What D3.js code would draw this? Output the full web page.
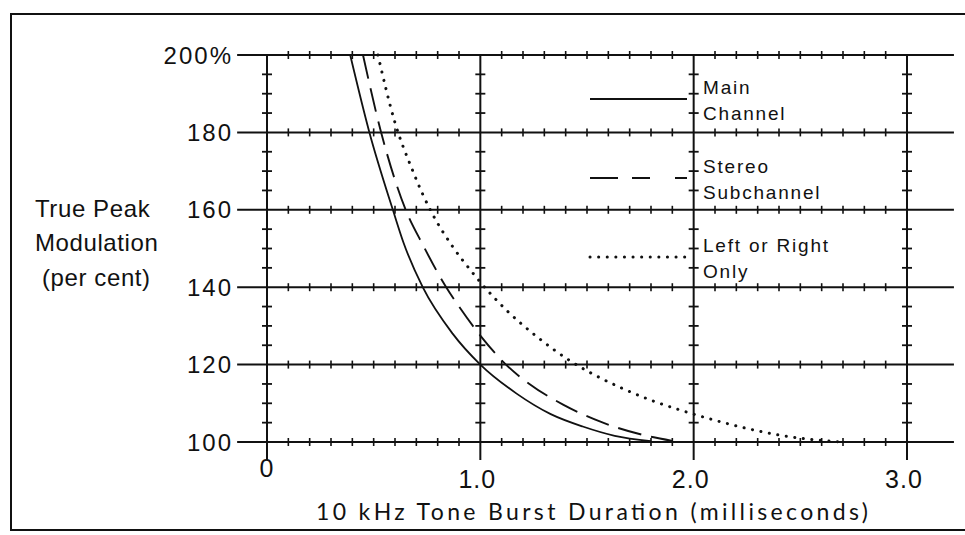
<!DOCTYPE html>
<html>
<head>
<meta charset="utf-8">
<script src="https://cdn.jsdelivr.net/npm/d3@7"></script>
<style>
  body { margin: 0; background: #fff; }
  svg { display: block; }
</style>
</head>
<body>
<svg id="chart"></svg>
<script>
// values
const Y_TICKS = [100, 120, 140, 160, 180, 200];
const Y_LABELS = ["100", "120", "140", "160", "180", "200%"];
const X_TICKS = [0, 1, 2, 3];
const X_LABELS = ["0", "1.0", "2.0", "3.0"];

const MAIN_X = [0.39, 0.48, 0.59, 0.64, 0.73, 0.87, 1.0, 1.17, 1.33, 1.48, 1.63, 1.8];
const MAIN_Y = [200, 180, 160, 151.5, 140, 128, 120, 112.5, 107.2, 104, 101.6, 100.2];

const STEREO_X = [0.45, 0.535, 0.65, 0.73, 0.84, 0.9, 1.0, 1.12, 1.23, 1.39, 1.56, 1.75, 1.9];
const STEREO_Y = [200, 180, 160, 151, 140, 135, 127.5, 120, 115, 109.6, 105.3, 102, 100.3];

const LR_X = [0.52, 0.6, 0.68, 0.73, 0.77, 0.87, 0.96, 1.0, 1.12, 1.27, 1.42, 1.54, 1.66, 1.8, 1.94, 2.1, 2.25, 2.4, 2.56, 2.7];
const LR_Y = [200, 182.5, 170.5, 164, 159.5, 150.5, 144, 141.3, 134.2, 127, 121, 117.2, 114, 110.8, 108.2, 105.6, 103.5, 101.8, 100.6, 100];

const SERIES_NAMES = [["Main", "Channel"], ["Stereo", "Subchannel"], ["Left or Right", "Only"]];

/********* CANVAS ***********/
var width = 965;
var height = 535;
var svg = d3.select("#chart").attr("width", width).attr("height", height);

var x = d3.scaleLinear().domain([0, 3]).range([267, 907]);
var y = d3.scaleLinear().domain([100, 200]).range([442, 55]);

var labelFont = "'Liberation Sans', Arial, Helvetica, sans-serif";

// outer frame (right edge runs off the scan)
svg.append("path")
  .attr("d", "M972,14 H11 V530 H972")
  .attr("fill", "none")
  .attr("stroke", "#111")
  .attr("stroke-width", 2);

/********* GRID ***********/
var grid = svg.append("g").attr("stroke", "#111");

grid.selectAll(".hline")
  .data(Y_TICKS)
  .enter()
  .append("line")
    .attr("x1", x(-0.14))
    .attr("x2", x(3.22))
    .attr("y1", function(d) { return y(d); })
    .attr("y2", function(d) { return y(d); })
    .attr("stroke-width", 2);

grid.selectAll(".vline")
  .data(X_TICKS)
  .enter()
  .append("line")
    .attr("x1", function(d) { return x(d); })
    .attr("x2", function(d) { return x(d); })
    .attr("y1", y(200))
    .attr("y2", y(100) + 18)
    .attr("stroke-width", 2);

// little cross ticks every 0.1 ms along the horizontal lines
var xMinor = d3.range(1, 30).filter(function(i) { return i % 10 != 0; }).map(function(i) { return i / 10; });
Y_TICKS.forEach(function(v) {
  grid.selectAll(null)
    .data(xMinor)
    .enter()
    .append("line")
      .attr("x1", function(d) { return x(d); })
      .attr("x2", function(d) { return x(d); })
      .attr("y1", y(v) - 4)
      .attr("y2", y(v) + 4)
      .attr("stroke-width", 1.6);
});

// and every 5 per cent along the vertical lines
var yMinor = d3.range(105, 200, 5).filter(function(d) { return d % 20 != 0; });
X_TICKS.forEach(function(v) {
  grid.selectAll(null)
    .data(yMinor)
    .enter()
    .append("line")
      .attr("x1", x(v) - 5)
      .attr("x2", x(v) + 5)
      .attr("y1", function(d) { return y(d); })
      .attr("y2", function(d) { return y(d); })
      .attr("stroke-width", 1.8);
});

/********* AXIS LABELS ***********/
svg.selectAll(".ylab")
  .data(Y_TICKS)
  .enter()
  .append("text")
    .attr("x", 233)
    .attr("y", function(d) { return y(d) + 8.5; })
    .attr("text-anchor", "end")
    .style("font-family", labelFont)
    .style("font-size", "24px")
    .style("letter-spacing", "2px")
    .attr("fill", "#111")
    .text(function(d, i) { return Y_LABELS[i]; });

svg.selectAll(".xlab")
  .data(X_TICKS)
  .enter()
  .append("text")
    .attr("x", function(d) { return x(d) + (d == 0 ? 0 : -3); })
    .attr("y", function(d) { return d == 0 ? 477 : 488; })
    .attr("text-anchor", "middle")
    .style("font-family", labelFont)
    .style("font-size", "25px")
    .style("letter-spacing", "1px")
    .attr("fill", "#111")
    .text(function(d, i) { return X_LABELS[i]; });

var ytitle = svg.append("text")
  .style("font-family", labelFont)
  .style("font-size", "24px")
  .style("letter-spacing", "0.6px")
  .attr("fill", "#111");
ytitle.append("tspan").attr("x", 35).attr("y", 217).text("True Peak");
ytitle.append("tspan").attr("x", 35).attr("y", 251).text("Modulation");
ytitle.append("tspan").attr("x", 42).attr("y", 286).text("(per cent)");

svg.append("text")
  .attr("x", 316)
  .attr("y", 520)
  .attr("textLength", 552)
  .attr("lengthAdjust", "spacing")
  .style("font-family", "Lato, 'DejaVu Sans', sans-serif")
  .style("font-size", "23px")
  .attr("fill", "#111")
  .text("10 kHz Tone Burst Duration (milliseconds)");

/********* CURVES ***********/
function pairs(xs, ys) {
  return xs.map(function(d, i) { return [d, ys[i]]; });
}
var series = [
  { data: pairs(MAIN_X, MAIN_Y), dash: null, width: 1.8, cap: "butt" },
  { data: pairs(STEREO_X, STEREO_Y), dash: "24 10", width: 1.9, cap: "butt" },
  { data: pairs(LR_X, LR_Y), dash: "0.1 8.5", width: 3, cap: "round" }
];

var line = d3.line()
  .x(function(d) { return x(d[0]); })
  .y(function(d) { return y(d[1]); })
  .curve(d3.curveMonotoneX);

series.forEach(function(s) {
  svg.append("path")
    .datum(s.data)
    .attr("d", line)
    .attr("fill", "none")
    .attr("stroke", "#111")
    .attr("stroke-width", s.width)
    .attr("stroke-linecap", s.cap)
    .attr("stroke-dasharray", s.dash);
});

/********* LEGEND ***********/
var legend = svg.append("g");
series.forEach(function(s, i) {
  var ly = 99 + 79 * i;
  legend.append("line")
    .attr("x1", 590)
    .attr("x2", 687)
    .attr("y1", ly)
    .attr("y2", ly)
    .attr("stroke", "#111")
    .attr("stroke-width", s.width)
    .attr("stroke-linecap", s.cap)
    .attr("stroke-dasharray", i == 1 ? "28 14 18 25 12" : s.dash);
  var t = legend.append("text")
    .style("font-family", labelFont)
    .style("font-size", "19px")
    .style("letter-spacing", "1.8px")
    .attr("fill", "#111");
  t.append("tspan").attr("x", 703).attr("y", ly - 5).text(SERIES_NAMES[i][0]);
  t.append("tspan").attr("x", 703).attr("y", ly + 21).text(SERIES_NAMES[i][1]);
});
</script>
</body>
</html>
